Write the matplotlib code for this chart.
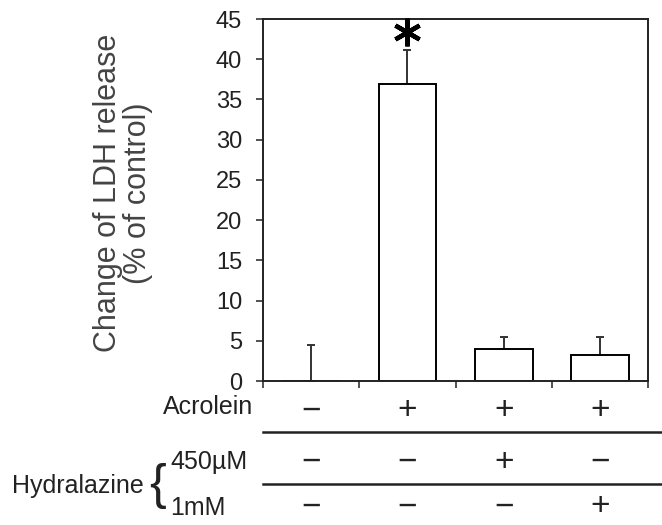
import matplotlib
matplotlib.use("Agg")
import matplotlib.pyplot as plt
import matplotlib.transforms as mtransforms

plt.rcParams['font.family'] = ['Liberation Sans', 'DejaVu Sans']

# ---- data ----
groups = [0, 1, 2, 3]
values = [0.0, 36.9, 4.0, 3.2]
errors = [4.5, 4.2, 1.5, 2.3]
acrolein = ['\u2212', '+', '+', '+']
hyd_450uM = ['\u2212', '\u2212', '+', '\u2212']
hyd_1mM = ['\u2212', '\u2212', '\u2212', '+']
yticks = [0, 5, 10, 15, 20, 25, 30, 35, 40, 45]
row_labels = ['Acrolein', '450\u00b5M', '1mM']
star_y = 43.4

W, H = 662, 525
fig = plt.figure(figsize=(W / 100, H / 100), dpi=100)
ax = fig.add_axes([263 / W, 1 - 381 / H, (648 - 263) / W, (381 - 19) / H])

txtc = '#222222'
ax.bar(groups, values, width=0.6, color='white', edgecolor='black', linewidth=1.4, zorder=2)
ax.errorbar(groups, values, yerr=[[0] * 4, errors], fmt='none', ecolor='#333333',
            elinewidth=1.4, capsize=3, capthick=1.4, zorder=1)

ax.set_xlim(-0.5, 3.5)
ax.set_ylim(0, 45)
ax.set_yticks(yticks)
ax.set_xticks([-0.5, 0.5, 1.5, 2.5, 3.5])
ax.set_xticklabels([])
ax.tick_params(axis='both', direction='out', length=5, width=1.2, colors='#333333',
               labelsize=17, labelcolor=txtc)
ax.tick_params(axis='y', pad=10)
for s in ax.spines.values():
    s.set_linewidth(1.4)
    s.set_color('#222222')

ax.set_ylabel('Change of LDH release\n(% of control)', fontsize=22, color='#444444',
              linespacing=1.0)
ax.yaxis.set_label_coords(-0.286, 0.52)

# asterisk above second bar
ax.plot([groups[1]], [star_y], marker=(6, 2, 0), markersize=20, markeredgewidth=3.2,
        color='black', clip_on=False, zorder=5)

# ---- treatment table below axis ----
tr = mtransforms.blended_transform_factory(ax.transData, fig.transFigure)
def fy(py):
    return 1 - py / H

rows = [(acrolein, 411), (hyd_450uM, 462), (hyd_1mM, 507)]
for signs, py in rows:
    for g, s in zip(groups, signs):
        ax.text(g, fy(py), s, transform=tr, ha='center', va='center', fontsize=24,
                color=txtc, clip_on=False)

fig.text(253 / W, fy(407), row_labels[0], ha='right', va='center', fontsize=18, color=txtc)
fig.text(170 / W, fy(462), row_labels[1], ha='left', va='center', fontsize=18, color=txtc)
fig.text(170 / W, fy(508), row_labels[2], ha='left', va='center', fontsize=18, color=txtc)
fig.text(12 / W, fy(486), 'Hydralazine', ha='left', va='center', fontsize=18, color=txtc)
fig.text(158 / W, fy(486), '{', ha='center', va='center', fontsize=36, color=txtc)

for py in (432, 484):
    fig.add_artist(plt.Line2D([263 / W, 1.0], [fy(py), fy(py)], color='#222222', lw=1.8))

fig.savefig('out.png', dpi=100)
